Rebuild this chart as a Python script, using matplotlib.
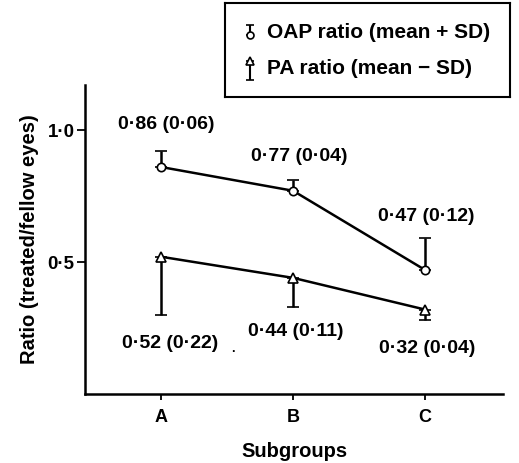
import matplotlib.pyplot as plt
import numpy as np

plt.rcParams['font.family'] = ['Liberation Sans', 'DejaVu Sans']
plt.rcParams['font.weight'] = 'bold'
plt.rcParams['axes.labelweight'] = 'bold'

subgroups = ['A', 'B', 'C']
oap_mean = [0.86, 0.77, 0.47]
oap_sd = [0.06, 0.04, 0.12]
pa_mean = [0.52, 0.44, 0.32]
pa_sd = [0.22, 0.11, 0.04]


def fmt(v):  # 0.86 -> 0·86
    return ('%.2f' % v).replace('.', '\u00b7')


fig = plt.figure(figsize=(5.19, 4.63), dpi=100)
ax = fig.add_axes([0.164, 0.149, 0.805, 0.667])
x = np.arange(len(subgroups))
zeros = [0] * len(x)

ax.errorbar(x, oap_mean, yerr=[zeros, oap_sd], color='black', lw=1.8, marker='o', ms=6,
            mfc='white', mec='black', mew=1.2, capsize=4, capthick=1.6, elinewidth=1.8)
ax.errorbar(x, pa_mean, yerr=[pa_sd, zeros], color='black', lw=1.8, marker='^', ms=7,
            mfc='white', mec='black', mew=1.2, capsize=4, capthick=1.6, elinewidth=1.8)

# подписи значений: сдвиг от конца планки погрешности
oap_pos = [(0.04, 0.10), (0.05, 0.088), (0.01, 0.084)]
pa_pos = [(0.07, -0.107), (0.02, -0.095), (0.015, -0.106)]
for i in range(len(x)):
    dx, dy = oap_pos[i]
    ax.text(x[i] + dx, oap_mean[i] + oap_sd[i] + dy, f'{fmt(oap_mean[i])} ({fmt(oap_sd[i])})',
            ha='center', va='center', fontsize=14)
    dx, dy = pa_pos[i]
    ax.text(x[i] + dx, pa_mean[i] - pa_sd[i] + dy,
            f'{fmt(pa_mean[i])} ({fmt(pa_sd[i])})', ha='center', va='center', fontsize=14)
ax.text(0.545, 0.17, '.', ha='center', va='center', fontsize=9)

ax.set_xlim(-0.576, 2.59)
ax.set_ylim(0, 1.17)
ax.set_xticks(x)
ax.set_xticklabels(subgroups, fontsize=13)
ax.set_yticks([0.5, 1.0])
ax.set_yticklabels(['0\u00b75', '1\u00b70'], fontsize=13.5)
ax.tick_params(axis='y', direction='out', length=6, width=1.3, pad=1.5)
ax.tick_params(axis='x', direction='out', length=4, width=1.3, pad=7)
ax.spines['top'].set_visible(False)
ax.spines['right'].set_visible(False)
ax.spines['left'].set_linewidth(1.8)
ax.spines['bottom'].set_linewidth(1.8)
ax.set_xlabel('Subgroups', fontsize=14.5, labelpad=11)
ax.set_ylabel('Ratio (treated/fellow eyes)', fontsize=14.5, labelpad=6)

# легенда рисуется вручную (ось y перевёрнута)
lg = fig.add_axes([225 / 519, 1 - 97 / 463, 285 / 519, 94 / 463])
lg.set_xlim(0, 285)
lg.set_ylim(94, 0)
lg.set_xticks([])
lg.set_yticks([])
for s in lg.spines.values():
    s.set_linewidth(1.5)
lg.errorbar([25], [32], yerr=[[10], [0]], color='black', marker='o', ms=5, mfc='white',
            mec='black', mew=1.2, capsize=3, capthick=1.4, elinewidth=1.5)
lg.errorbar([25], [58], yerr=[[0], [19]], color='black', marker='^', ms=6, mfc='white',
            mec='black', mew=1.2, capsize=3, capthick=1.4, elinewidth=1.5)
lg.text(42, 29, 'OAP ratio (mean + SD)', fontsize=15, va='center')
lg.text(42, 65, 'PA ratio (mean \u2212 SD)', fontsize=15, va='center')

fig.savefig('out.png', dpi=100)
